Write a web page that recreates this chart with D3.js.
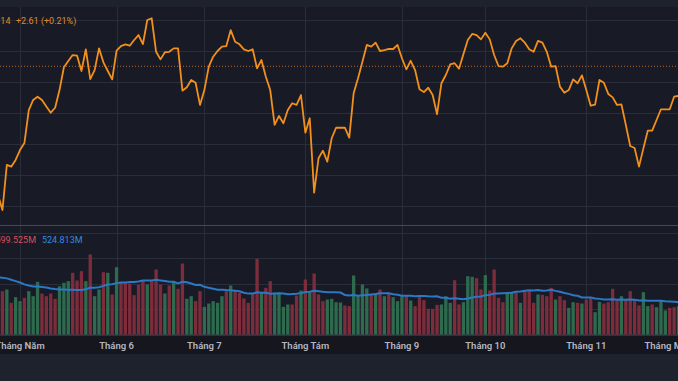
<!DOCTYPE html>
<html>
<head>
<meta charset="utf-8">
<script src="https://cdn.jsdelivr.net/npm/d3@7"></script>
<style>
    html, body { margin: 0; padding: 0; background: #1e222d; overflow: hidden; }
    svg { display: block; }
    text { font-family: Roboto, "Noto Sans", sans-serif; }
</style>
</head>
<body>
<script>
// trading days shown: 22 Apr 2024 .. 2 Dec 2024 (VN market holidays left out)
let firstDay = new Date(2024, 3, 22);
let lastDay = new Date(2024, 11, 2);
let holidays = [ "2024-04-29", "2024-04-30", "2024-05-01", "2024-09-02", "2024-09-03" ];

let monthLabels = [ "Tháng Năm", "Tháng 6", "Tháng 7", "Tháng Tám", "Tháng 9",
                    "Tháng 10", "Tháng 11", "Tháng Mười Hai" ];
let monthNumbers = [ 4, 5, 6, 7, 8, 9, 10, 11 ];

// daily close of the index
let closes = [
    1187.1, 1177.4, 1206.5, 1205.4, 1209.7, 1216.1, 1220.6, 1241.9, 1248.4, 1250.5,
    1248.4, 1244.2, 1240.2, 1243.4, 1254.8, 1269.5, 1273.5, 1277.4, 1277.0, 1267.1,
    1281.1, 1261.9, 1267.7, 1281.7, 1272.7, 1267.1, 1261.7, 1280.2, 1283.2, 1284.3,
    1283.4, 1287.1, 1290.3, 1284.5, 1300.0, 1301.1, 1279.5, 1274.6, 1279.2, 1279.5,
    1281.7, 1281.7, 1254.4, 1256.6, 1261.3, 1259.5, 1245.2, 1254.8, 1269.9, 1276.3,
    1280.0, 1282.8, 1283.2, 1293.5, 1286.0, 1284.3, 1281.1, 1280.0, 1281.1, 1268.8,
    1274.2, 1263.4, 1254.8, 1232.3, 1238.1, 1233.4, 1241.9, 1246.3, 1245.2, 1251.6,
    1227.3, 1236.6, 1188.6, 1210.8, 1215.7, 1208.6, 1223.7, 1230.5, 1230.5, 1230.5,
    1224.1, 1252.7, 1262.4, 1273.1, 1283.9, 1282.8, 1285.4, 1280.0, 1280.6, 1281.3,
    1281.3, 1283.9, 1275.3, 1268.2, 1273.7, 1267.7, 1255.3, 1253.5, 1256.3, 1251.6,
    1239.2, 1259.2, 1264.5, 1271.4, 1272.1, 1268.6, 1277.9, 1287.1, 1291.0, 1290.3,
    1287.5, 1291.8, 1287.5, 1277.4, 1270.3, 1269.9, 1272.1, 1281.7, 1286.5, 1288.2,
    1285.4, 1281.1, 1279.5, 1286.5, 1285.4, 1279.5, 1269.9, 1270.3, 1257.0, 1253.1,
    1254.8, 1261.7, 1259.2, 1264.3, 1254.8, 1244.7, 1245.4, 1261.3, 1259.5, 1252.3,
    1250.1, 1245.2, 1245.6, 1232.3, 1218.7, 1217.4, 1205.4, 1217.2, 1228.6, 1228.6,
    1235.5, 1242.4, 1242.4, 1242.4, 1250.5, 1251.0
];

// daily volume, millions of shares
let volumes = [
     650,  680,  706,  497,  586,  523,  575,  680,  601,  826,
     643,  601,  643,  560,  758,  811,  837,  968,  847,  994,
     837, 1255,  601,  706,  978,  968,  628, 1056,  811,  811,
     800,  617,  785,  837,  785,  837, 1020,  785,  643,  769,
     837,  717, 1114,  560,  601,  523,  680,  434,  486,  523,
     497,  601,  680,  769,  680,  654,  565,  497,  643, 1187,
     654,  732,  837,  654,  654,  434,  471,  471,  612,  690,
     863,  664,  957,  628,  523,  549,  560,  507,  502,  455,
     445,  926,  601,  785,  722,  628,  638,  706,  601,  654,
     586,  523,  601,  612,  533,  445,  601,  539,  403,  403,
     465,  471,  601,  497,  852,  471,  507,  915,  905,  884,
     706,  931,  690, 1020,  575,  507,  664,  664,  654,  497,
     680,  680,  497,  628,  622,  601,  732,  549,  601,  539,
     418,  507,  497,  486,  549,  575,  350,  513,  486,  507,
     717,  533,  601,  549,  680,  549,  455,  664,  445,  471,
     429,  523,  377,  418,  429,  445
];
// 1 = up session (green bar), 0 = down session (red bar)
let volumeUp = [
    0, 0, 1, 0, 1, 1, 0, 1, 1, 1,  0, 0, 0, 0, 1, 1, 1, 0, 0, 0,
    1, 0, 1, 1, 0, 1, 0, 1, 0, 0,  0, 0, 0, 0, 1, 0, 0, 0, 1, 0,
    1, 0, 0, 1, 1, 0, 0, 1, 1, 1,  1, 1, 0, 1, 0, 0, 0, 0, 0, 0,
    1, 0, 0, 1, 1, 1, 1, 0, 0, 1,  0, 1, 0, 0, 0, 1, 1, 1, 1, 0,
    0, 1, 1, 1, 1, 0, 1, 0, 1, 0,  1, 1, 1, 0, 1, 0, 0, 0, 0, 0,
    0, 1, 1, 1, 0, 0, 1, 1, 1, 0,  0, 1, 0, 0, 0, 0, 1, 1, 0, 1,
    0, 0, 0, 1, 0, 0, 0, 1, 0, 0,  1, 1, 0, 1, 0, 0, 1, 1, 0, 0,
    0, 0, 1, 0, 0, 0, 0, 1, 1, 0,  1, 1, 1, 0, 0, 1
];
// volumes of the 19 sessions before the first shown day (feed the 20-day average)
let volumesBefore = [ 900, 880, 920, 1010, 960, 1180, 1050, 870, 820, 827,
                      790, 900, 760, 880, 823, 930, 980, 900, 970 ];

let lastClose = 1270.14;
let lastChange = 2.61;
let lastChangePct = 0.21;
let lastVolume = 599.525;
let lastVolumeMA = 524.813;

(function() {
    'use strict';

    let width = 678;
    let height = 381;
    let maPeriod = 20;

    function tradingDays() {
        let fmt = d3.timeFormat("%Y-%m-%d");
        return d3.timeDay.range(firstDay, d3.timeDay.offset(lastDay, 1))
            .filter(function(d) {
                return d.getDay() !== 0 && d.getDay() !== 6 && holidays.indexOf(fmt(d)) < 0;
            });
    }

    function init() {
        let days = tradingDays().slice(0, closes.length);
        let rows = days.map(function(d, i) {
            return { date: d, close: closes[i], volume: volumes[i], up: volumeUp[i] === 1 };
        });

        // 20 day moving average of volume
        let allVolumes = volumesBefore.concat(volumes);
        rows.forEach(function(r, i) {
            let end = i + volumesBefore.length + 1;
            r.ma = d3.mean(allVolumes.slice(end - maPeriod, end));
        });

        let x = d3.scalePoint().domain(days).range([ -1.95, 678.5 ]);
        let yPrice = d3.scaleLinear().domain([ 1180, 1300 ]).range([ 206, 20 ]);
        let yVol = d3.scaleLinear().domain([ 0, 1600 ]).range([ 334.5, 232.5 ]);
        let barW = x.step() * 0.76;

        let svg = d3.select("body").append("svg")
            .attr("width", width)
            .attr("height", height);

        // backgrounds
        svg.append("rect").attr("width", width).attr("height", height).attr("fill", "#1e222d");
        svg.append("rect").attr("y", 7).attr("width", width).attr("height", 328).attr("fill", "#181a25");
        svg.append("rect").attr("y", 335).attr("width", width).attr("height", 19).attr("fill", "#15161e");

        let defs = svg.append("defs");
        defs.append("clipPath").attr("id", "clip-price")
            .append("rect").attr("x", 0).attr("y", 7).attr("width", width).attr("height", 218);
        defs.append("clipPath").attr("id", "clip-vol")
            .append("rect").attr("x", 0).attr("y", 226).attr("width", width).attr("height", 109);

        // month ticks = first trading day of each month
        let monthTicks = days.filter(function(d, i) {
            return i > 0 && d.getMonth() !== days[i - 1].getMonth();
        });

        let grid = svg.append("g").attr("stroke", "#2a2d3a").attr("stroke-width", 1);
        grid.selectAll(".vgrid").data(monthTicks).enter().append("line")
            .attr("x1", function(d) { return Math.round(x(d)) + 0.5; })
            .attr("x2", function(d) { return Math.round(x(d)) + 0.5; })
            .attr("y1", 7).attr("y2", 335);
        grid.selectAll(".pgrid").data(yPrice.ticks(6)).enter().append("line")
            .attr("x1", 0).attr("x2", width)
            .attr("y1", function(d) { return Math.round(yPrice(d)) + 0.5; })
            .attr("y2", function(d) { return Math.round(yPrice(d)) + 0.5; });
        grid.selectAll(".vgrid2").data([ 400, 800, 1200, 1600 ]).enter().append("line")
            .attr("x1", 0).attr("x2", width)
            .attr("y1", function(d) { return Math.round(yVol(d)) + 0.5; })
            .attr("y2", function(d) { return Math.round(yVol(d)) + 0.5; });

        // pane borders
        svg.append("line").attr("x1", 0).attr("x2", width).attr("y1", 225.5).attr("y2", 225.5)
            .attr("stroke", "#454854");
        svg.append("line").attr("x1", 0).attr("x2", width).attr("y1", 335).attr("y2", 335)
            .attr("stroke", "#4a4d59");

        // volume bars
        let vol = svg.append("g").attr("clip-path", "url(#clip-vol)");
        vol.selectAll("rect").data(rows).enter().append("rect")
            .attr("x", function(d) { return x(d.date) - barW / 2; })
            .attr("width", barW)
            .attr("y", function(d) { return yVol(d.volume); })
            .attr("height", function(d) { return yVol(0) - yVol(d.volume); })
            .attr("fill", function(d) { return d.up ? "#2d6a4e" : "#7d2c3b"; });

        let maLine = d3.line()
            .x(function(d) { return x(d.date); })
            .y(function(d) { return yVol(d.ma); });
        vol.append("path").datum(rows)
            .attr("d", maLine)
            .attr("fill", "none")
            .attr("stroke", "#2b78c6")
            .attr("stroke-width", 2);

        // price line
        let price = svg.append("g").attr("clip-path", "url(#clip-price)");
        price.append("line")
            .attr("x1", 0).attr("x2", width)
            .attr("y1", yPrice(lastClose)).attr("y2", yPrice(lastClose))
            .attr("stroke", "#b8642a")
            .attr("stroke-width", 1)
            .attr("stroke-dasharray", "1,2");
        let priceLine = d3.line()
            .x(function(d) { return x(d.date); })
            .y(function(d) { return yPrice(d.close); });
        price.append("path").datum(rows)
            .attr("d", priceLine)
            .attr("fill", "none")
            .attr("stroke", "#f2901e")
            .attr("stroke-width", 1.8)
            .attr("stroke-linejoin", "round");

        // legends
        let fmt2 = d3.format(".2f");
        svg.append("text").attr("x", 10.5).attr("y", 23.5)
            .attr("text-anchor", "end").attr("font-size", 9).attr("fill", "#e0892a")
            .text(fmt2(lastClose));
        svg.append("text").attr("x", 16).attr("y", 23.5)
            .attr("font-size", 9).attr("fill", "#e0892a")
            .text("+" + fmt2(lastChange) + " (+" + fmt2(lastChangePct) + "%)");
        svg.append("text").attr("x", 36).attr("y", 242.5)
            .attr("text-anchor", "end").attr("font-size", 9).attr("fill", "#d4505f")
            .text(d3.format(".3f")(lastVolume) + "M");
        svg.append("text").attr("x", 42).attr("y", 242.5)
            .attr("font-size", 9).attr("fill", "#2f8be0")
            .text(d3.format(".3f")(lastVolumeMA) + "M");

        // time axis labels
        svg.append("g").selectAll("text").data(monthTicks.filter(function(d) {
                return monthNumbers.indexOf(d.getMonth()) >= 0;
            }))
            .enter().append("text")
            .attr("x", function(d) { return x(d); })
            .attr("y", 349)
            .attr("text-anchor", "middle")
            .attr("font-size", 9.5)
            .attr("font-weight", 600)
            .attr("fill", "#b4b7c1")
            .text(function(d) { return monthLabels[monthNumbers.indexOf(d.getMonth())]; });
    }

    window.onload = init;
})();
</script>
</body>
</html>
